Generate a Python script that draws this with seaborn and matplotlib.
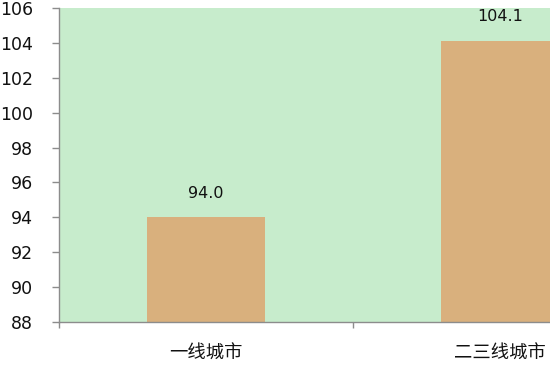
import matplotlib
matplotlib.use("Agg")
import matplotlib.pyplot as plt
import seaborn as sns
import pandas as pd

categories = ["一线城市", "二三线城市"]
values = [94.0, 104.1]
yticks = [88, 90, 92, 94, 96, 98, 100, 102, 104, 106]

sns.set_theme(style="white")
plt.rcParams['font.family'] = ['DejaVu Sans', 'Noto Sans CJK SC']

df = pd.DataFrame({"cat": categories, "val": values})

fig = plt.figure(figsize=(5.5, 3.66), dpi=100)
ax = fig.add_axes([59/550, 44/366, 588/550, 314/366])
ax.set_facecolor("#C7ECCC")

sns.barplot(data=df, x="cat", y="val", color="#D9B07D", width=0.4,
            saturation=1, ax=ax, zorder=2)
for p in ax.patches:
    p.set_edgecolor("none")

ax.set_ylim(88, 106)
ax.set_xlim(-0.5, 1.5)
ax.set_yticks(yticks)
ax.set_yticklabels([str(t) for t in yticks], fontsize=12.5, color="#111111")
ax.set_xticks([-0.5, 0.5, 1.5])
ax.set_xticklabels([])
ax.set_xlabel("")
ax.set_ylabel("")
ax.tick_params(axis="y", left=True, length=5, width=1, color="#8C8C8C", pad=13.5)
ax.tick_params(axis="x", bottom=True, length=4.5, width=1, color="#8C8C8C")

for i, c in enumerate(categories):
    ax.text(i, -0.102, c, transform=ax.get_xaxis_transform(), ha="center", va="center",
            fontsize=13.2, family=['Noto Sans CJK SC', 'DejaVu Sans'], color="#111111")

for i, v in enumerate(values):
    ax.annotate(f"{v:.1f}", (i, v), xytext=(0, 12), textcoords="offset points",
                ha="center", va="bottom", fontsize=11.5, color="#111111")

for s in ["top", "right"]:
    ax.spines[s].set_visible(False)
for s in ["left", "bottom"]:
    ax.spines[s].set_color("#8C8C8C")
    ax.spines[s].set_linewidth(1)

fig.savefig("out.png", dpi=100)
